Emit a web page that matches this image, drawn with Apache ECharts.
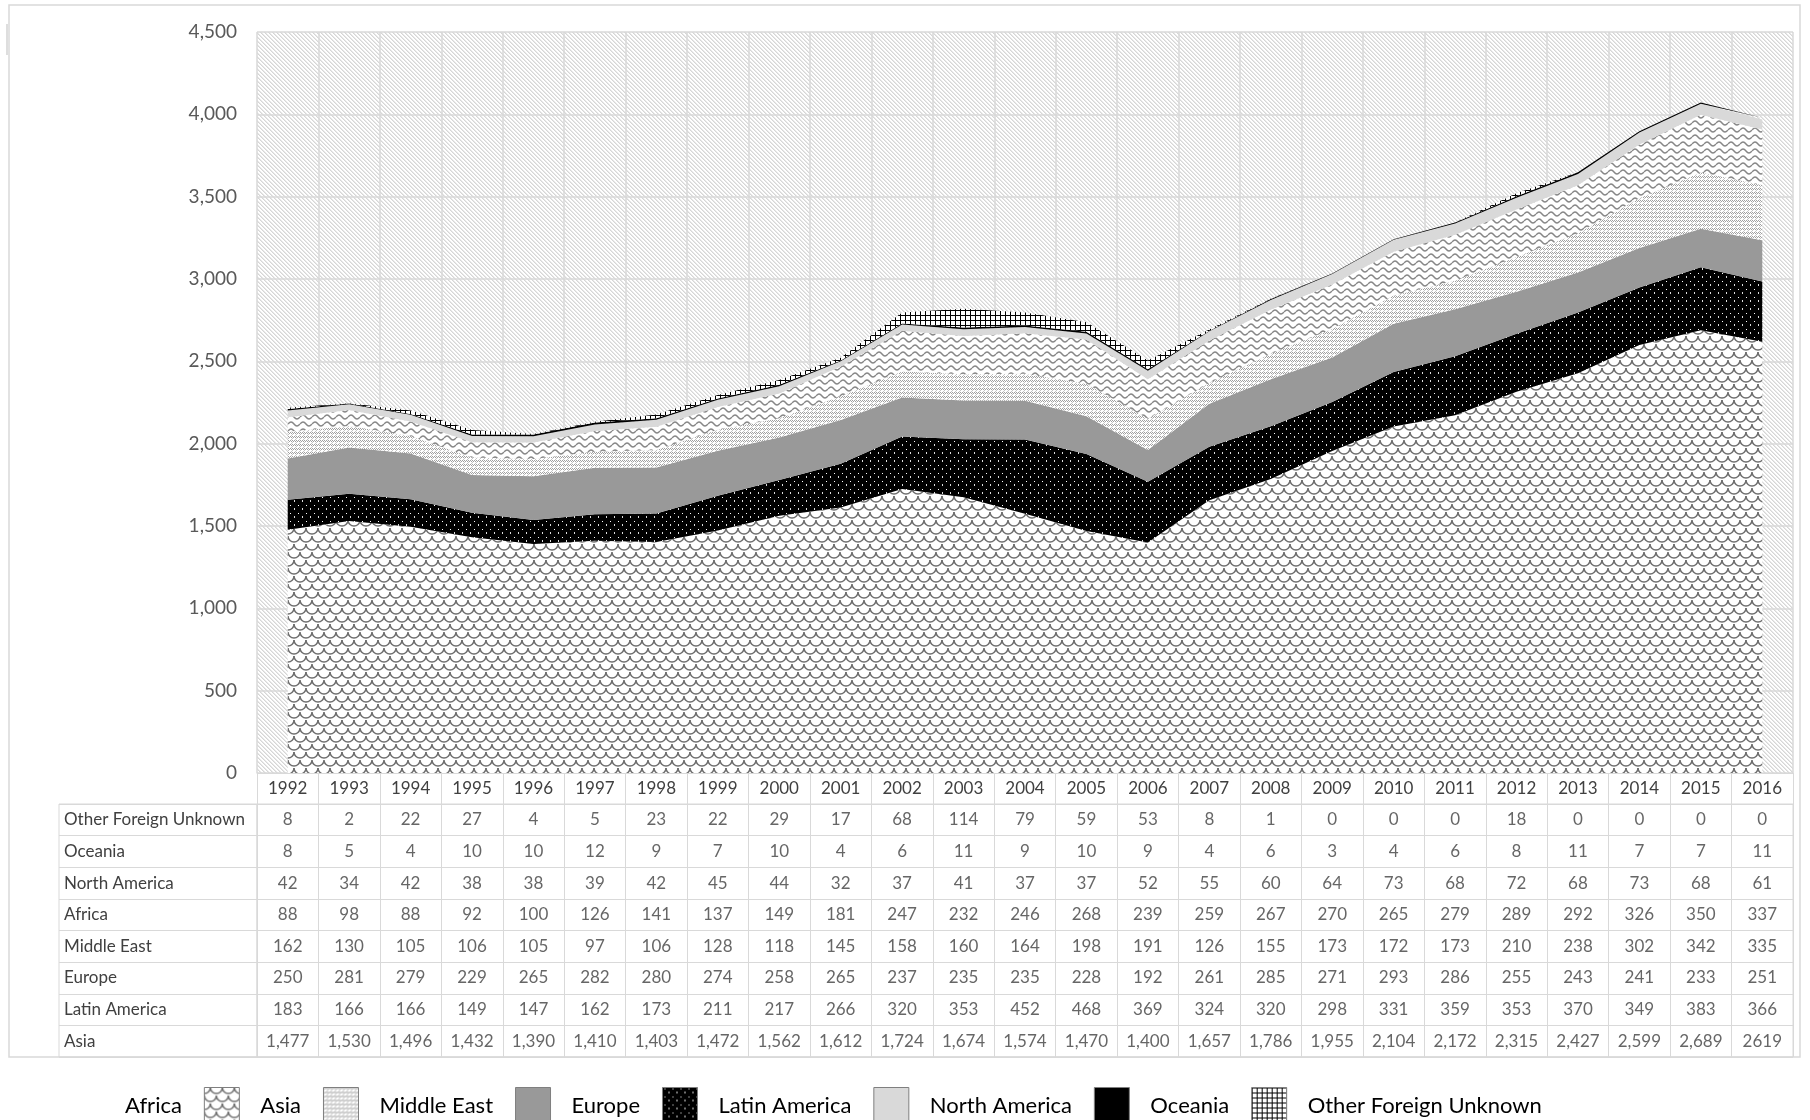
<!DOCTYPE html>
<html>
<head>
<meta charset="utf-8">
<script src="https://cdn.jsdelivr.net/npm/echarts@6/dist/echarts.min.js"></script>
<style>
  html, body { margin: 0; padding: 0; background: #fff; }
  #chart { width: 1810px; height: 1120px; }
</style>
</head>
<body>
<div id="chart"></div>
<script>
/* =================================
   数据
================================= */

var years = ["1992", "1993", "1994", "1995", "1996", "1997", "1998", "1999", "2000", "2001", "2002", "2003", "2004",
  "2005", "2006", "2007", "2008", "2009", "2010", "2011", "2012", "2013", "2014", "2015", "2016"];

var asia = [1477, 1530, 1496, 1432, 1390, 1410, 1403, 1472, 1562, 1612, 1724, 1674, 1574,
  1470, 1400, 1657, 1786, 1955, 2104, 2172, 2315, 2427, 2599, 2689, 2619];
var latinAmerica = [183, 166, 166, 149, 147, 162, 173, 211, 217, 266, 320, 353, 452,
  468, 369, 324, 320, 298, 331, 359, 353, 370, 349, 383, 366];
var europe = [250, 281, 279, 229, 265, 282, 280, 274, 258, 265, 237, 235, 235,
  228, 192, 261, 285, 271, 293, 286, 255, 243, 241, 233, 251];
var middleEast = [162, 130, 105, 106, 105, 97, 106, 128, 118, 145, 158, 160, 164,
  198, 191, 126, 155, 173, 172, 173, 210, 238, 302, 342, 335];
var africa = [88, 98, 88, 92, 100, 126, 141, 137, 149, 181, 247, 232, 246,
  268, 239, 259, 267, 270, 265, 279, 289, 292, 326, 350, 337];
var northAmerica = [42, 34, 42, 38, 38, 39, 42, 45, 44, 32, 37, 41, 37,
  37, 52, 55, 60, 64, 73, 68, 72, 68, 73, 68, 61];
var oceania = [8, 5, 4, 10, 10, 12, 9, 7, 10, 4, 6, 11, 9,
  10, 9, 4, 6, 3, 4, 6, 8, 11, 7, 7, 11];
var otherUnknown = [8, 2, 22, 27, 4, 5, 23, 22, 29, 17, 68, 114, 79,
  59, 53, 8, 1, 0, 0, 0, 18, 0, 0, 0, 0];

// 表格行（从上到下）
var tableRows = ["Other Foreign Unknown", "Oceania", "North America", "Africa", "Middle East", "Europe", "Latin America", "Asia"];
var legendOrder = ["Africa", "Asia", "Middle East", "Europe", "Latin America", "North America", "Oceania", "Other Foreign Unknown"];
var yTicks = { min: 0, max: 4500, step: 500 };

// 原表中 2016 年 Asia 写成了 "2619"（无千分位）
var plainCells = { "Asia|2016": true };

/* =================================
   填充图案
================================= */

function tile(w, h, draw) {
  var c = document.createElement("canvas");
  c.width = w;
  c.height = h;
  var ctx = c.getContext("2d");
  draw(ctx, w, h);
  return { image: c, repeat: "repeat" };
}

function px(ctx, color, x, y, w, h) {
  ctx.fillStyle = color;
  ctx.fillRect(x, y, w || 1, h || 1);
}

var patBack = tile(4, 4, function(ctx, w, h) {
  px(ctx, "#fff", 0, 0, w, h);
  for (var y = 0; y < h; y++) {
    px(ctx, "#d6d6d6", y % 4, y);
    px(ctx, "#e8e8e8", (y + 1) % 4, y);
  }
});

var patAsia = tile(12, 16, function(ctx, w, h) {
  px(ctx, "#fff", 0, 0, w, h);
  ctx.strokeStyle = "#6f6f6f";
  ctx.lineWidth = 1.5;
  var centers = [[0, 0], [12, 0], [6, 8], [0, 16], [12, 16]];
  centers.forEach(function(c) {
    ctx.beginPath();
    ctx.arc(c[0], c[1], 6, 0, Math.PI);
    ctx.stroke();
  });
});

var patLatin = tile(8, 8, function(ctx, w, h) {
  px(ctx, "#000", 0, 0, w, h);
  px(ctx, "#fff", 2, 1, 1, 1);
  px(ctx, "#ddd", 6, 4, 1, 2);
});

var patMiddle = tile(4, 4, function(ctx, w, h) {
  px(ctx, "#fff", 0, 0, w, h);
  px(ctx, "#a0a0a0", 0, 0);
  px(ctx, "#a0a0a0", 2, 0);
  px(ctx, "#a0a0a0", 1, 1);
  px(ctx, "#a0a0a0", 3, 1);
  px(ctx, "#c4c4c4", 0, 2);
  px(ctx, "#c4c4c4", 3, 3);
});

var patAfrica = tile(12, 7, function(ctx, w, h) {
  px(ctx, "#fff", 0, 0, w, h);
  ctx.strokeStyle = "#878787";
  ctx.lineWidth = 1.4;
  ctx.beginPath();
  ctx.moveTo(0, 4);
  ctx.quadraticCurveTo(3, 0, 6, 4);
  ctx.quadraticCurveTo(9, 8, 12, 4);
  ctx.stroke();
});

var patOther = tile(5, 5, function(ctx, w, h) {
  px(ctx, "#fff", 0, 0, w, h);
  px(ctx, "#000", 0, 0, 1, h);
  px(ctx, "#000", 0, 0, w, 1);
});

var fills = {
  "Asia": patAsia,
  "Latin America": patLatin,
  "Europe": "#999999",
  "Middle East": patMiddle,
  "Africa": patAfrica,
  "North America": "#d9d9d9",
  "Oceania": "#000000",
  "Other Foreign Unknown": patOther
};

/* =================================
   图表
================================= */

function fmt(v) {
  return String(v).replace(/\B(?=(\d{3})+(?!\d))/g, ",");
}

function areaSeries(name, data) {
  return {
    name: name,
    type: "line",
    stack: "total",
    data: data,
    showSymbol: false,
    symbol: "none",
    lineStyle: { width: 0 },
    itemStyle: { color: fills[name] },
    areaStyle: { color: fills[name], opacity: 1 },
    emphasis: { disabled: true },
    z: 2
  };
}

function buildTableData() {
  var rows = {
    "Other Foreign Unknown": otherUnknown,
    "Oceania": oceania,
    "North America": northAmerica,
    "Africa": africa,
    "Middle East": middleEast,
    "Europe": europe,
    "Latin America": latinAmerica,
    "Asia": asia
  };
  var out = [];
  tableRows.forEach(function(name, r) {
    rows[name].forEach(function(v, i) {
      out.push([i, r, v, plainCells[name + "|" + years[i]] ? String(v) : fmt(v)]);
    });
  });
  return out;
}

function legendItem(n) {
  if (n === "Africa") {
    return { name: n, itemStyle: { color: "rgba(0,0,0,0)", borderWidth: 0 } };
  }
  var item = { name: n, itemStyle: { color: fills[n], borderColor: "#7f7f7f", borderWidth: 1 } };
  if (n === "Asia") {
    item.textStyle = { padding: [0, 21, 0, 16] };
  }
  return item;
}

var FONT = "Lato, 'Open Sans', sans-serif";
var GRID_LINE = "#d9d9d9";

var chart = echarts.init(document.getElementById("chart"), null, { renderer: "canvas" });

chart.setOption({
  animation: false,
  backgroundColor: "#fff",
  textStyle: { fontFamily: FONT },
  graphic: [{
    type: "rect",
    shape: { x: 9, y: 5, width: 1791, height: 1052 },
    style: { fill: "none", stroke: GRID_LINE, lineWidth: 1.5 },
    z: -10,
    silent: true
  }, {
    type: "rect",
    shape: { x: 6, y: 24, width: 2, height: 31 },
    style: { fill: "#dedede" },
    z: -10,
    silent: true
  }],
  legend: {
    left: 64,
    top: 1082,
    itemWidth: 35,
    itemHeight: 36,
    itemGap: 22,
    icon: "rect",
    textStyle: { fontFamily: FONT, fontSize: 22, color: "#000", padding: [0, 0, 0, 16] },
    data: legendOrder.map(legendItem)
  },
  grid: [
    { left: 257, right: 17, top: 32, bottom: 347, show: true, borderWidth: 0, backgroundColor: patBack },
    { left: 257, right: 17, top: 804, bottom: 63, show: true, borderColor: GRID_LINE, borderWidth: 1 },
    { left: 59, width: 198, top: 804, bottom: 63, show: true, borderColor: GRID_LINE, borderWidth: 1 }
  ],
  xAxis: [
    {
      gridIndex: 0,
      type: "category",
      data: years,
      boundaryGap: true,
      axisLine: { show: true, lineStyle: { color: GRID_LINE } },
      axisTick: { show: true, length: 31, interval: 0, lineStyle: { color: GRID_LINE } },
      axisLabel: { interval: 0, margin: 7, fontSize: 17, color: "#404040", fontFamily: FONT },
      splitLine: { show: true, interval: 0, lineStyle: { color: GRID_LINE, width: 1.5 } }
    },
    {
      gridIndex: 1,
      type: "category",
      data: years,
      boundaryGap: true,
      axisLine: { show: false },
      axisTick: { show: false },
      axisLabel: { show: false },
      splitLine: { show: true, interval: 0, lineStyle: { color: GRID_LINE } }
    },
    {
      gridIndex: 2,
      type: "value",
      min: 0,
      max: 1,
      show: false
    }
  ],
  yAxis: [
    {
      gridIndex: 0,
      type: "value",
      min: yTicks.min,
      max: yTicks.max,
      interval: yTicks.step,
      axisLine: { show: false },
      axisTick: { show: false },
      axisLabel: {
        margin: 20,
        fontSize: 19,
        color: "#595959",
        fontFamily: FONT,
        formatter: function(v) { return fmt(v); }
      },
      splitLine: { show: true, lineStyle: { color: GRID_LINE, width: 1.5 } }
    },
    {
      gridIndex: 1,
      type: "category",
      data: tableRows,
      inverse: true,
      axisLine: { show: false },
      axisTick: { show: false },
      axisLabel: { show: false },
      splitLine: { show: true, interval: 0, lineStyle: { color: GRID_LINE } }
    },
    {
      gridIndex: 2,
      type: "category",
      data: tableRows,
      inverse: true,
      axisLine: { show: false },
      axisTick: { show: false },
      axisLabel: { inside: true, margin: 5, fontSize: 17, color: "#404040", fontFamily: FONT, align: "left", interval: 0 },
      splitLine: { show: true, interval: 0, lineStyle: { color: GRID_LINE } }
    }
  ],
  series: [
    areaSeries("Asia", asia),
    areaSeries("Latin America", latinAmerica),
    areaSeries("Europe", europe),
    areaSeries("Middle East", middleEast),
    areaSeries("Africa", africa),
    areaSeries("North America", northAmerica),
    areaSeries("Oceania", oceania),
    areaSeries("Other Foreign Unknown", otherUnknown),
    {
      name: "table",
      type: "scatter",
      xAxisIndex: 1,
      yAxisIndex: 1,
      data: buildTableData(),
      symbolSize: 1,
      itemStyle: { color: "rgba(0,0,0,0)" },
      silent: true,
      label: {
        show: true,
        position: "inside",
        fontSize: 17,
        color: "#404040",
        fontFamily: FONT,
        formatter: function(p) { return p.value[3]; }
      }
    }
  ]
});
</script>
</body>
</html>
